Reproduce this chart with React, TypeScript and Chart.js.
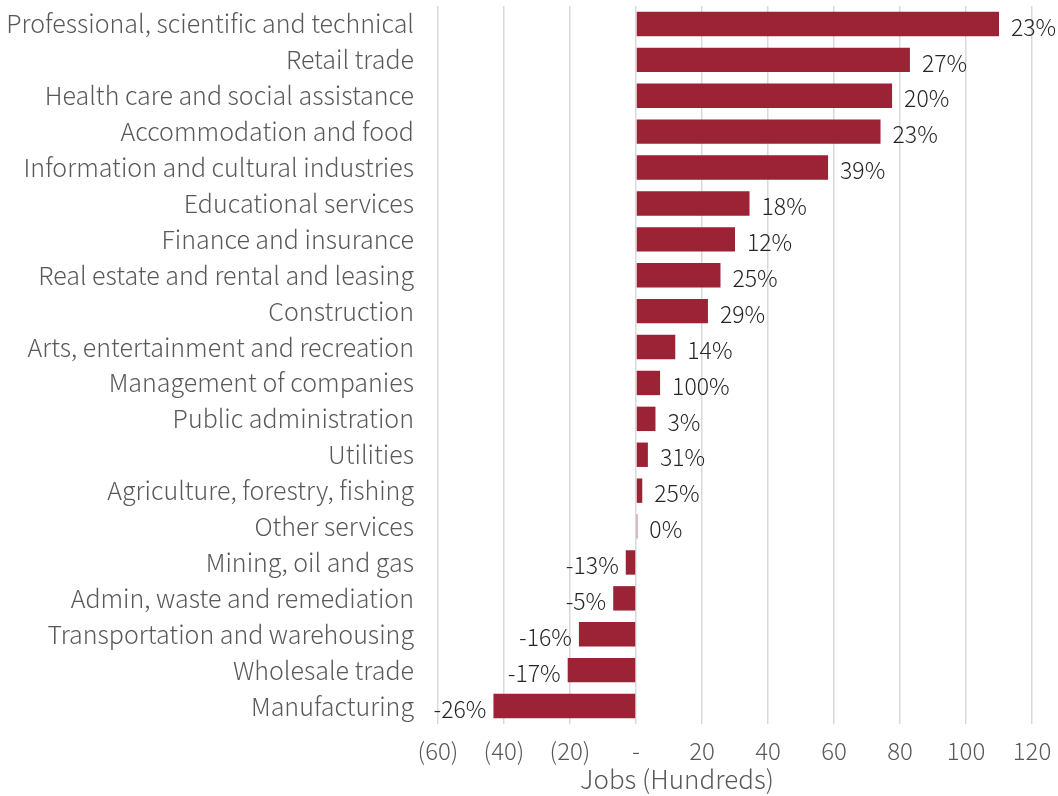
import React, { useEffect, useRef } from "react";
import { Chart, registerables } from "chart.js";

Chart.register(...registerables);

const categories = [
  "Professional, scientific and technical",
  "Retail trade",
  "Health care and social assistance",
  "Accommodation and food",
  "Information and cultural industries",
  "Educational services",
  "Finance and insurance",
  "Real estate and rental and leasing",
  "Construction",
  "Arts, entertainment and recreation",
  "Management of companies",
  "Public administration",
  "Utilities",
  "Agriculture, forestry, fishing",
  "Other services",
  "Mining, oil and gas",
  "Admin, waste and remediation",
  "Transportation and warehousing",
  "Wholesale trade",
  "Manufacturing",
];

const jobChange = [
  110, 83, 77.6, 74.1, 58.2, 34.4, 30.0, 25.6, 21.8, 11.9, 7.3, 5.9, 3.6, 1.9,
  0.4, -3.1, -6.9, -17.3, -20.7, -43.2,
];

const pctLabels = [
  "23%", "27%", "20%", "23%", "39%", "18%", "12%", "25%", "29%", "14%",
  "100%", "3%", "31%", "25%", "0%", "-13%", "-5%", "-16%", "-17%", "-26%",
];

const xMin = -60;
const xMax = 120;
const xStep = 20;
const axisTitle = "Jobs (Hundreds)";

const FONT = '"Noto Sans CJK JP", "Noto Sans", sans-serif';
const BAR_COLOR = "#9c2236";

function formatTick(v: number): string {
  if (v < 0) return `(${Math.abs(v)})`;
  if (v === 0) return "-";
  return String(v);
}

const labelPlugin = {
  id: "barLabels",
  afterDatasetsDraw(chart: any) {
    const ctx = chart.ctx;
    const meta = chart.getDatasetMeta(0);
    ctx.save();
    ctx.font = `300 23px ${FONT}`;
    ctx.fillStyle = "#262626";
    ctx.textBaseline = "middle";
    meta.data.forEach((el: any, i: number) => {
      const v = jobChange[i];
      const { x, y } = el.getProps(["x", "y"], true);
      if (v >= 0) {
        ctx.textAlign = "left";
        ctx.fillText(pctLabels[i], x + 12, y + 3);
      } else {
        ctx.textAlign = "right";
        ctx.fillText(pctLabels[i], x - 7, y + 3);
      }
    });
    ctx.font = `300 26px ${FONT}`;
    ctx.fillStyle = "#595959";
    ctx.textAlign = "center";
    ctx.fillText(axisTitle, chart.chartArea.left + 239, chart.height - 17);
    ctx.restore();
  },
};

export default function App() {
  const ref = useRef<HTMLCanvasElement | null>(null);

  useEffect(() => {
    if (!ref.current) return;
    const chart = new Chart(ref.current, {
      type: "bar",
      data: {
        labels: categories,
        datasets: [
          {
            data: jobChange,
            backgroundColor: BAR_COLOR,
            borderWidth: 0,
            categoryPercentage: 1,
            barPercentage: 0.68,
          },
        ],
      },
      options: {
        indexAxis: "y",
        responsive: false,
        animation: false,
        layout: { padding: { top: 6, right: 26, bottom: 0, left: 0 } },
        plugins: {
          legend: { display: false },
          tooltip: { enabled: false },
        },
        scales: {
          x: {
            min: xMin,
            max: xMax,
            ticks: {
              stepSize: xStep,
              padding: 12,
              color: "#595959",
              font: { family: FONT, size: 24, weight: "300" },
              callback: (v: any) => formatTick(Number(v)),
            },
            grid: { color: "#d9d9d9", lineWidth: 1.5, drawTicks: false },
            border: { display: false },
            afterFit: (scale: any) => {
              scale.height = 72;
              scale.paddingLeft = 0;
              scale.paddingRight = 0;
            },
          },
          y: {
            ticks: {
              padding: 24,
              color: "#595959",
              font: { family: FONT, size: 25, weight: "300" },
              autoSkip: false,
            },
            grid: { display: false, drawTicks: false },
            border: { display: false },
            afterFit: (scale: any) => {
              scale.width = 438;
              scale.paddingTop = 0;
              scale.paddingBottom = 0;
            },
          },
        },
      },
      plugins: [labelPlugin],
    });
    return () => chart.destroy();
  }, []);

  return (
    <div style={{ position: "fixed", left: 0, top: 0, width: 1058, height: 796, background: "#fff" }}>
      <canvas ref={ref} width={1058} height={796} />
    </div>
  );
}
